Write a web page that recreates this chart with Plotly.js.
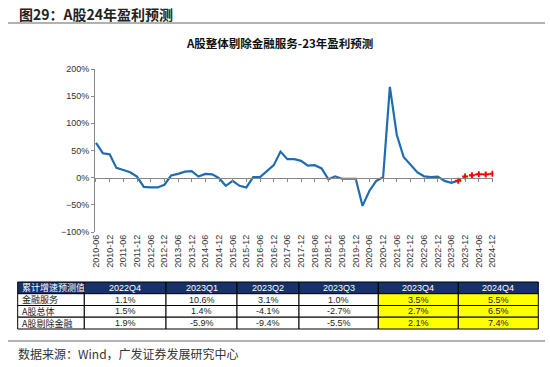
<!DOCTYPE html>
<html>
<head>
<meta charset="utf-8">
<script src="https://cdn.plot.ly/plotly-3.0.1.min.js"></script>
<style>html,body{margin:0;padding:0;background:#fff}#chart{width:550px;height:367px}</style>
</head>
<body>
<div id="chart"></div>
<script>
// Actual series: A-share ex-financials cumulative earnings growth (%)
const actualDates = ['2010-06','2010-09','2010-12','2011-03','2011-06','2011-09','2011-12',
  '2012-03','2012-06','2012-09','2012-12','2013-03','2013-06','2013-09','2013-12',
  '2014-03','2014-06','2014-09','2014-12','2015-03','2015-06','2015-09','2015-12',
  '2016-03','2016-06','2016-09','2016-12','2017-03','2017-06','2017-09','2017-12',
  '2018-03','2018-06','2018-09','2018-12','2019-03','2019-06','2019-09','2019-12',
  '2020-03','2020-06','2020-09','2020-12','2021-03','2021-06','2021-09','2021-12',
  '2022-03','2022-06','2022-09','2022-12','2023-03','2023-06','2023-09'];
const actualValues = [64,45,43,18,14,10,2,
  -17,-18,-18,-13,4,7,11,12,
  2,7,6,-1,-15,-6,-15,-18,
  1,1,12,23,48,34,34,31,
  22,23,17,-3,2.5,-2,-2,-2,
  -52,-24,-6,1,167,79,38,24,
  10,2.5,1,1.9,-5.9,-9.4,-5.5];
// Forecast series
const forecastDates = ['2023-09','2023-12','2024-03','2024-06','2024-09','2024-12'];
const forecastValues = [-5.5,2.1,4.5,6.5,6,7.4];

// Table data
const tableHeader = ['累计增速预测值','2022Q4','2023Q1','2023Q2','2023Q3','2023Q4','2024Q4'];
const rowLabels = ['金融服务','A股总体','A股剔除金融'];
const col2022Q4 = ['1.1%','1.5%','1.9%'];
const col2023Q1 = ['10.6%','1.4%','-5.9%'];
const col2023Q2 = ['3.1%','-4.1%','-9.4%'];
const col2023Q3 = ['1.0%','-2.7%','-5.5%'];
const col2023Q4 = ['3.5%','2.7%','2.1%'];
const col2024Q4 = ['5.5%','6.5%','7.4%'];

const W = 550, H = 367;
const px = v => v / W, py = v => 1 - v / H;

const xRange = ['2010-05-19','2024-12-13'];
const cjk = '"Noto Sans CJK SC", Arial, sans-serif';
const arial = 'Arial, "Liberation Sans", sans-serif';

const traces = [
  {type:'scatter', mode:'lines', x: actualDates, y: actualValues, xaxis:'x', yaxis:'y',
   line:{color:'#1f6db0', width:2.2}, hoverinfo:'skip', showlegend:false},
  {type:'scatter', mode:'lines+markers', x: forecastDates, y: forecastValues, xaxis:'x2', yaxis:'y',
   line:{color:'#ff0000', width:1.5, dash:'dot'}, marker:{color:'#ff0000', symbol:'cross', size:5},
   hoverinfo:'skip', showlegend:false}
];

// Table drawn as shapes + annotations (built from the table arrays)
const colEdges = [17.7, 84.3, 166, 237, 299, 378.3, 458.3, 538.3];
const rowEdges = [282, 293.7, 305.5, 317.2, 329];
const yellowCols = [5, 6];
const bodyCols = [rowLabels, col2022Q4, col2023Q1, col2023Q2, col2023Q3, col2023Q4, col2024Q4];

const shapes = [
  {type:'line', xref:'paper', yref:'paper', x0:px(8), x1:px(545), y0:py(23), y1:py(23),
   line:{color:'#999', width:1.5}},
  {type:'line', xref:'paper', yref:'paper', x0:px(8), x1:px(545), y0:py(341), y1:py(341),
   line:{color:'#999', width:1.5}}
];
const annotations = [
  {text:'<b>图29：A股24年盈利预测</b>', xref:'paper', yref:'paper', x:px(17), y:py(14),
   xanchor:'left', yanchor:'middle', showarrow:false, font:{family:cjk, size:14, color:'#222'}},
  {text:'<b>A股整体剔除金融服务-23年盈利预测</b>', xref:'paper', yref:'paper', x:px(280), y:py(43),
   xanchor:'center', yanchor:'middle', showarrow:false, font:{family:cjk, size:11.5, color:'#111'}},
  {text:'数据来源：Wind，广发证券发展研究中心', xref:'paper', yref:'paper', x:px(16), y:py(353),
   xanchor:'left', yanchor:'middle', showarrow:false, font:{family:cjk, size:12, color:'#333'}}
];

for (let c = 0; c < tableHeader.length; c++) {
  const x0 = colEdges[c], x1 = colEdges[c+1];
  // header cell
  shapes.push({type:'rect', xref:'paper', yref:'paper', x0:px(x0), x1:px(x1),
    y0:py(rowEdges[1]), y1:py(rowEdges[0]), fillcolor:'#17326a', line:{color:'#000', width:1}, layer:'below'});
  annotations.push({text: tableHeader[c], xref:'paper', yref:'paper',
    x: c === 0 ? px(x0 + 2) : px((x0 + x1) / 2), y: py((rowEdges[0] + rowEdges[1]) / 2),
    xanchor: c === 0 ? 'left' : 'center', yanchor:'middle', showarrow:false,
    font:{family: c === 0 ? cjk : arial, size:9, color:'#ffffff'}});
  for (let r = 0; r < 3; r++) {
    const fill = yellowCols.includes(c) ? '#ffff00' : '#ffffff';
    shapes.push({type:'rect', xref:'paper', yref:'paper', x0:px(x0), x1:px(x1),
      y0:py(rowEdges[r+2]), y1:py(rowEdges[r+1]), fillcolor: fill, line:{color:'#000', width:1}, layer:'below'});
    annotations.push({text: bodyCols[c][r], xref:'paper', yref:'paper',
      x: c === 0 ? px(x0 + 2) : px((x0 + x1) / 2), y: py((rowEdges[r+1] + rowEdges[r+2]) / 2),
      xanchor: c === 0 ? 'left' : 'center', yanchor:'middle', showarrow:false,
      font:{family: c === 0 ? cjk : arial, size:9, color:'#222'}});
  }
}

const yBot = py(232), yTop = py(69);
const zeroPos = yBot + (yTop - yBot) * (100/300);

const layout = {
  width: W, height: H,
  margin:{l:0,r:0,t:0,b:0},
  paper_bgcolor:'#fff', plot_bgcolor:'rgba(0,0,0,0)',
  font:{family:arial, color:'#222'},
  showlegend:false,
  xaxis:{domain:[px(95), px(493.4)], range:xRange, type:'date',
    tick0:'2010-06-01', dtick:'M6', tickformat:'%Y-%m', tickangle:-90,
    ticks:'', showline:false, showgrid:false, zeroline:false,
    tickfont:{size:9, color:'#333'}, anchor:'y', automargin:false},
  xaxis2:{overlaying:'x', anchor:'free', position: zeroPos, side:'bottom',
    range:xRange, type:'date', tick0:'2010-06-01', dtick:'M6',
    ticks:'outside', ticklen:3, tickcolor:'#888', showline:true, linecolor:'#888', linewidth:1,
    showticklabels:false, showgrid:false, zeroline:false},
  yaxis:{domain:[yBot, yTop], range:[-100,200], dtick:50, ticksuffix:'%',
    showline:true, linecolor:'#888', linewidth:1, ticks:'outside', ticklen:3, tickcolor:'#888',
    showgrid:false, zeroline:false, tickfont:{size:9, color:'#333'}, automargin:false},
  shapes: shapes,
  annotations: annotations
};

Plotly.newPlot('chart', traces, layout, {displayModeBar:false, staticPlot:true});
</script>
</body>
</html>
